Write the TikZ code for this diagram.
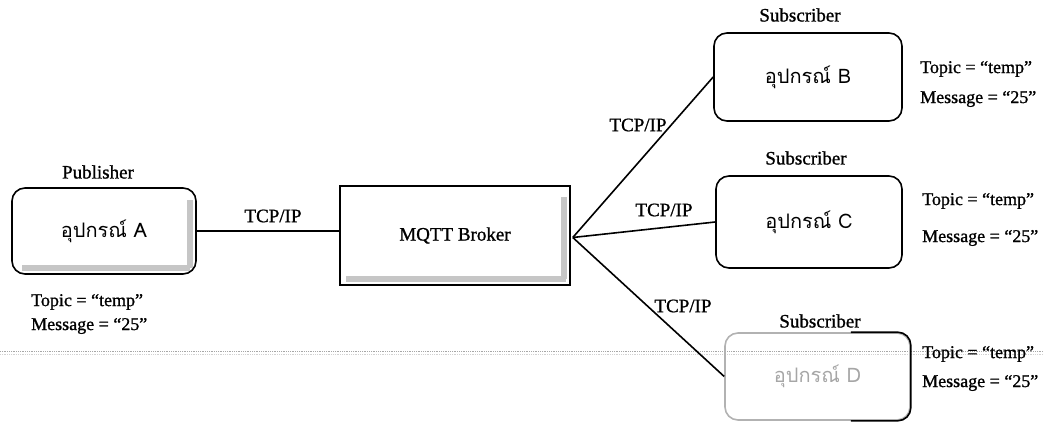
\documentclass[tikz,border=0pt]{standalone}
\usepackage{fontspec}
\setmainfont[FakeBold=1]{Liberation Serif}
\newfontfamily\thaifont[Script=Thai]{Loma}
\begin{document}
\begin{tikzpicture}[x=1pt,y=-1pt,
  txt/.style={font=\fontsize{19}{23}\selectfont, inner sep=0pt},
  stxt/.style={font=\fontsize{18}{22}\selectfont, inner sep=0pt, anchor=west},
  thtxt/.style={font=\fontsize{20}{24}\selectfont\thaifont, inner sep=0pt},
  dev/.style={draw, line width=1.6pt, rounded corners=13pt, inner sep=0pt},
  brk/.style={draw, line width=1.6pt, inner sep=0pt},
  link/.style={line width=1.6pt},
  shade/.style={fill=gray!45, draw=none}
]
\useasboundingbox (0,0) rectangle (1044,422);
% scan line
\draw[gray!70, line width=0.8pt, densely dotted] (0,351) -- (1044,351);
\draw[gray!35, line width=0.8pt, densely dotted] (0,354) -- (1044,354);

% Publisher device A
\node[dev, minimum width=184pt, minimum height=86pt] (A) at (104,231) {};
\fill[shade] (187,200) rectangle (193,268);
\fill[shade] (22,265) rectangle (190,271);
\node[thtxt] (At) at (A.center) {อุปกรณ์ A};
\node[txt] (pub) at (98,172) {Publisher};
\node[stxt] (Atop) at (31,302) {Topic = “temp”};
\node[stxt] (Amsg) at (31,326) {Message = “25”};

% Broker
\node[brk, minimum width=230pt, minimum height=99pt] (broker) at (455,235.5) {};
\fill[shade] (561,197) rectangle (567,279);
\fill[shade] (346,276) rectangle (566,282);
\node[txt] (bt) at (broker.center) {MQTT Broker};

% Subscriber B
\node[dev, minimum width=188pt, minimum height=88pt] (B) at (808,77) {};
\node[thtxt] (Bt) at (B.center) {อุปกรณ์ B};
\node[txt] (subB) at (800,15) {Subscriber};
\node[stxt] (Btop) at (920,69) {Topic = “temp”};
\node[stxt] (Bmsg) at (920,99) {Message = “25”};

% Subscriber C
\node[dev, minimum width=186pt, minimum height=92pt] (C) at (809,222) {};
\node[thtxt] (Ct) at (C.center) {อุปกรณ์ C};
\node[txt] (subC) at (806,158) {Subscriber};
\node[stxt] (Ctop) at (922,201) {Topic = “temp”};
\node[stxt] (Cmsg) at (922,238) {Message = “25”};

% Subscriber D (faded left side)
\node[dev, draw=gray!60, minimum width=185pt, minimum height=87pt] (D) at (817.5,376.5) {};
\draw[line width=1.6pt, rounded corners=13pt] ([xshift=-60pt]D.north east) -- (D.north east) -- (D.south east) -- ([xshift=-60pt]D.south east);
\node[thtxt, text=gray!70] (Dt) at (D.center) {อุปกรณ์ D};
\node[txt] (subD) at (820,321) {Subscriber};
\node[stxt] (Dtop) at (922,354) {Topic = “temp”};
\node[stxt] (Dmsg) at (922,383) {Message = “25”};

% Connectors
\coordinate (hub) at ([xshift=2pt,yshift=-2pt]broker.east);
\draw[link] (A.east) -- (A.east -| broker.west);
\draw[link] (hub) -- (B.west);
\draw[link] (hub) -- (C.west);
\draw[link] (hub) -- (D.west);

% Labels
\node[txt] (l1) at (273,216) {TCP/IP};
\node[txt] (l2) at (638,125) {TCP/IP};
\node[txt] (l3) at (664,210) {TCP/IP};
\node[txt] (l4) at (683,306) {TCP/IP};
\end{tikzpicture}
\end{document}
